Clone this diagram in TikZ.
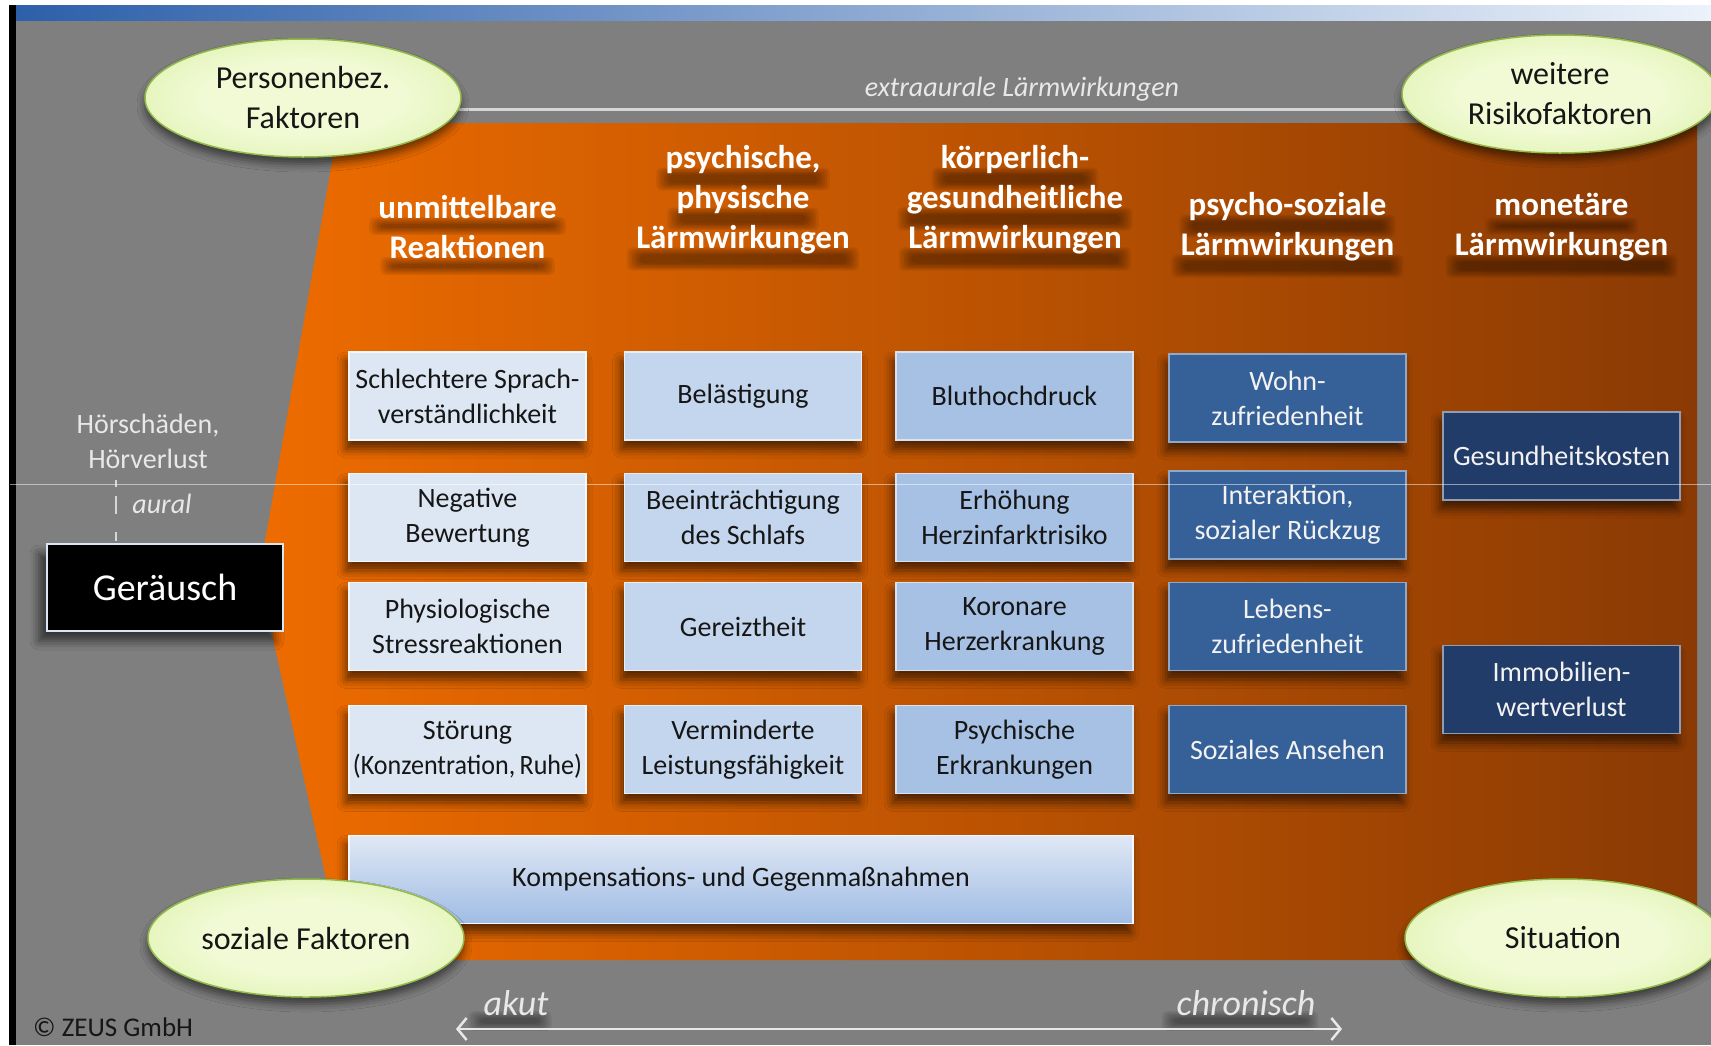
\documentclass[tikz,border=0pt]{standalone}
\usepackage{fontspec}
\usepackage{graphicx}
\setmainfont{Carlito}
\usetikzlibrary{shapes.geometric,shadows.blur,arrows.meta}

% palette
\definecolor{bggray}{RGB}{127,127,127}
\definecolor{barL}{RGB}{45,96,170}
\definecolor{barM}{RGB}{125,163,215}
\definecolor{barR}{RGB}{236,242,250}
\definecolor{orA}{RGB}{238,108,0}
\definecolor{orB}{RGB}{200,87,2}
\definecolor{orC}{RGB}{138,58,4}
\definecolor{ellIn}{RGB}{241,250,212}
\definecolor{ellOut}{RGB}{202,233,135}
\definecolor{ellLine}{RGB}{148,186,76}
\definecolor{boxA}{RGB}{221,231,243}
\definecolor{boxB}{RGB}{196,214,237}
\definecolor{boxC}{RGB}{166,193,228}
\definecolor{boxD}{RGB}{54,96,152}
\definecolor{boxE}{RGB}{33,60,104}
\definecolor{kompT}{RGB}{224,232,245}
\definecolor{kompB}{RGB}{160,188,228}
\definecolor{txtdark}{RGB}{22,22,22}
\definecolor{softwhite}{RGB}{232,232,232}
\definecolor{lightline}{RGB}{214,214,214}

\pgfdeclareradialshading{ellglow}{\pgfpoint{0bp}{0bp}}{color(0bp)=(ellIn); color(16bp)=(ellIn); color(50bp)=(ellOut)}

\tikzset{
  ell/.style={ellipse, minimum width=316pt, minimum height=118pt, inner sep=0pt,
    shade, shading=ellglow, draw=ellLine, line width=1.5pt, align=center,
    text=txtdark, font=\fontsize{32}{40}\selectfont,
    blur shadow={shadow xshift=0pt, shadow yshift=-7pt, shadow blur radius=8pt, shadow opacity=55}},
  cell/.style={rectangle, minimum width=237pt, minimum height=88pt, inner sep=0pt,
    align=center, font=\fontsize{28}{35}\selectfont, line width=1.5pt,
    blur shadow={shadow xshift=-3pt, shadow yshift=-9pt, shadow blur radius=9pt, shadow opacity=60}},
  cellA/.style={cell, fill=boxA, draw=white!70!boxA, text=txtdark},
  cellB/.style={cell, fill=boxB, draw=white!60!boxB, text=txtdark},
  cellC/.style={cell, fill=boxC, draw=white!55!boxC, text=txtdark},
  cellD/.style={cell, fill=boxD, draw=white!45!boxD, text=white!95!black},
  cellE/.style={cell, fill=boxE, draw=white!50!boxE, text=white!95!black},
  hdrfont/.style={font=\fontsize{33}{40}\selectfont\bfseries},
  hdr/.style={hdrfont, align=center, inner sep=0pt, text=white},
  timefont/.style={font=\fontsize{36}{42}\selectfont\itshape},
  timetext/.style={timefont, inner sep=0pt, text=softwhite},
  soft/.style={inner sep=0pt, text=softwhite, align=center, font=\fontsize{28}{35}\selectfont},
}

% soft dark band under one line of text: x, y, font style, line text
\newcommand\blurband[4]{%
  \node[inner sep=0pt, #3] (band) at (#1,#2) {\phantom{#4}};%
  \foreach \k in {0,...,5}{%
    \fill[black, opacity=0.075, rounded corners=5pt]
      ([shift={({-9pt+\k*2.4pt},{-4pt-\k*1.4pt})}]band.north west) rectangle
      ([shift={({9pt-\k*2.4pt},{2pt+\k*1.4pt})}]band.south east);}}

\begin{document}
\begin{tikzpicture}[x=1pt, y=-1pt]
\useasboundingbox (0,0) rectangle (1711,1045);

% frame and background
\fill[white] (0,0) rectangle (1711,1045);
\fill[black] (9,5) rectangle (16,1045);
\fill[bggray] (16,20) rectangle (1711,1045);
\shade[left color=barL, middle color=barM, right color=barR] (16,5) rectangle (1711,20);

% orange effect area
\shade[left color=orA, middle color=orB, right color=orC]
  (339,123) -- (1697,123) -- (1697,960) -- (344,960) -- (259,575) -- cycle;

% extra-aural band
\coordinate (exL) at (440,109);
\coordinate (exR) at (1420,109);
\draw[lightline, line width=3pt] (exL) -- (exR);
\node[soft, font=\fontsize{28}{34}\selectfont\itshape] (extra) at (1022,89) {extraaurale Lärmwirkungen};

% shadows of the column headings
\blurband{467.5}{225}{hdrfont}{unmittelbare}
\blurband{467.5}{265}{hdrfont}{Reaktionen}
\blurband{743}{178}{hdrfont}{psychische,}
\blurband{743}{218}{hdrfont}{physische}
\blurband{743}{258}{hdrfont}{Lärmwirkungen}
\blurband{1015}{178}{hdrfont}{körperlich-}
\blurband{1015}{218}{hdrfont}{gesundheitliche}
\blurband{1015}{258}{hdrfont}{Lärmwirkungen}
\blurband{1287.5}{225}{hdrfont}{psycho-soziale}
\blurband{1287.5}{265}{hdrfont}{Lärmwirkungen}
\blurband{1561.5}{225}{hdrfont}{monetäre}
\blurband{1561.5}{265}{hdrfont}{Lärmwirkungen}

% column headings
\node[hdr] (h1) at (467.5,227) {unmittelbare\\Reaktionen};
\node[hdr] (h2) at (743,200) {psychische,\\physische\\Lärmwirkungen};
\node[hdr] (h3) at (1015,200) {körperlich-\\gesundheitliche\\Lärmwirkungen};
\node[hdr] (h4) at (1287.5,227) {psycho-soziale\\Lärmwirkungen};
\node[hdr] (h5) at (1561.5,227) {monetäre\\Lärmwirkungen};

% noise source
\node[rectangle, minimum width=236pt, minimum height=87pt, fill=black,
  draw=white!60!boxC, line width=1.5pt, text=white, font=\fontsize{38}{46}\selectfont,
  blur shadow={shadow xshift=-8pt, shadow yshift=-10pt, shadow blur radius=9pt, shadow opacity=60}]
  (ger) at (165,587.5) {Geräusch};

% aural path
\node[soft] (hoer) at (148,441) {Hörschäden,\\Hörverlust};
\node[soft, font=\fontsize{28}{34}\selectfont\itshape] (aural) at (162,504) {aural};
\coordinate (dTop) at (116,480);
\draw[lightline, line width=2pt, dash pattern=on 7pt off 9pt on 18pt off 18pt on 9pt]
  (dTop) -- (dTop |- ger.north);

% column 1
\node[cellA] (a1) at (467.5,396)   {Schlechtere Sprach-\\verständlichkeit};
\node[cellA] (a2) at (467.5,517.5) {Negative\\Bewertung};
\node[cellA] (a3) at (467.5,626.5) {Physiologische\\Stressreaktionen};
\node[cellA] (a4) at (467.5,749.5) {Störung\\\scalebox{0.93}[1]{(Konzentration,\,Ruhe)}};
% column 2
\node[cellB] (b1) at (743,396)   {Belästigung};
\node[cellB] (b2) at (743,517.5) {Beeinträchtigung\\des Schlafs};
\node[cellB] (b3) at (743,626.5) {Gereiztheit};
\node[cellB] (b4) at (743,749.5) {Verminderte\\Leistungsfähigkeit};
% column 3
\node[cellC] (c1) at (1014.5,396)   {Bluthochdruck};
\node[cellC] (c2) at (1014.5,517.5) {Erhöhung\\Herzinfarktrisiko};
\node[cellC] (c3) at (1014.5,626.5) {Koronare\\Herzerkrankung};
\node[cellC] (c4) at (1014.5,749.5) {Psychische\\Erkrankungen};
% column 4
\node[cellD] (d1) at (1287.5,398)   {Wohn-\\zufriedenheit};
\node[cellD] (d2) at (1287.5,515)   {Interaktion,\\sozialer Rückzug};
\node[cellD] (d3) at (1287.5,626.5) {Lebens-\\zufriedenheit};
\node[cellD] (d4) at (1287.5,749.5) {Soziales Ansehen};
% column 5
\node[cellE] (e1) at (1561.5,456)   {Gesundheitskosten};
\node[cellE] (e2) at (1561.5,689.5) {Immobilien-\\wertverlust};

% compensation bar
\node[cell, minimum width=784pt, top color=kompT, bottom color=kompB,
  draw=white!70!kompT, text=txtdark] (komp) at (741,879.5)
  {Kompensations- und Gegenmaßnahmen};

% factor ellipses
\node[ell] (pers) at (303,98) {Personenbez.\\Faktoren};
\node[ell] (weit) at (1560,94) {weitere\\Risikofaktoren};
\node[ell] (soz) at (306,938) {soziale Faktoren};
\node[ell] (sit) at (1563,938) {Situation};

% time axis
\coordinate (tA) at (456,1029);
\coordinate (tC) at (1342,1029);
\blurband{510}{1020}{timefont}{akut}
\blurband{1240}{1020}{timefont}{chronisch}
\draw[softwhite, line width=2.5pt,
  {Straight Barb[length=9pt,width=22pt]}-{Straight Barb[length=9pt,width=22pt]}] (tA) -- (tC);
\node[timetext] (akut) at (516,1003) {akut};
\node[timetext] (chron) at (1246,1003) {chronisch};

% copyright
\node[anchor=west, inner sep=0pt, text=txtdark, font=\fontsize{27}{32}\selectfont]
  (copy) at (33,1027) {© ZEUS GmbH};

% fine horizontal rule across the sheet
\coordinate (rL) at (10,484);
\coordinate (rR) at (1711,484);
\draw[white, opacity=0.5, line width=1pt] (rL) -- (rR);
\end{tikzpicture}
\end{document}
